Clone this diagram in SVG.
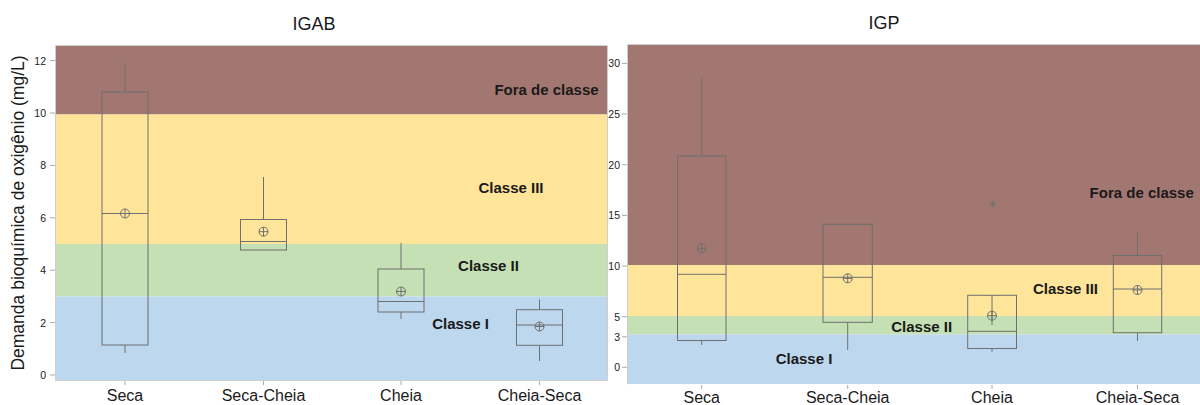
<svg xmlns="http://www.w3.org/2000/svg" width="1200" height="405" viewBox="0 0 1200 405">
<defs>
<style>
text{font-family:"Liberation Sans",Arial,sans-serif;fill:#1a1a1a}
.title{font-size:18px;text-anchor:middle}
.tick{font-size:10.5px;text-anchor:end;fill:#222}
.xl{font-size:16px;text-anchor:middle}
.cls{font-size:15px;font-weight:bold;text-anchor:middle;fill:#1a1a1a}
.frame{fill:none;stroke:#cfcfcf;stroke-width:1}
.tk{stroke:#aaa;stroke-width:1}
.bx{fill:none;stroke:#6f6f6f;stroke-width:1}
.brown{fill:#A37771}.yellow{fill:#FFE599}.green{fill:#C5E0B4}.blue{fill:#BDD7EE}
</style>
<g id="mean">
<circle cx="0" cy="0" r="4.5" fill="none" stroke="#6f6f6f" stroke-width="1"/>
<line x1="-4.5" y1="0" x2="4.5" y2="0" stroke="#6f6f6f" stroke-width="1"/>
<line x1="0" y1="-4.5" x2="0" y2="4.5" stroke="#6f6f6f" stroke-width="1"/>
</g>
</defs>
<rect width="1200" height="405" fill="#ffffff"/>

<text class="title" x="314" y="30">IGAB</text>
<text class="title" x="884" y="29">IGP</text>

<text transform="translate(24,213) rotate(-90)" style="font-size:17.5px;text-anchor:middle">Demanda bioquímica de oxigênio (mg/L)</text>

<!-- Left panel -->
<g id="panel-igab">
<rect class="brown" x="56" y="46" width="551" height="68.5"/>
<rect class="yellow" x="56" y="114.5" width="551" height="129.5"/>
<rect class="green" x="56" y="244" width="551" height="52.5"/>
<rect class="blue" x="56" y="296.5" width="551" height="83.5"/>
<path class="frame" d="M55.5,380.5 V45.5 H607.5 V380.5 Z"/>
<g class="tk">
<line x1="50" y1="375" x2="55" y2="375"/><line x1="50" y1="322.6" x2="55" y2="322.6"/>
<line x1="50" y1="270.2" x2="55" y2="270.2"/><line x1="50" y1="217.8" x2="55" y2="217.8"/>
<line x1="50" y1="165.4" x2="55" y2="165.4"/><line x1="50" y1="113" x2="55" y2="113"/>
<line x1="50" y1="60.6" x2="55" y2="60.6"/>
<line x1="125" y1="381" x2="125" y2="385"/><line x1="263.5" y1="381" x2="263.5" y2="385"/>
<line x1="401" y1="381" x2="401" y2="385"/><line x1="539.5" y1="381" x2="539.5" y2="385"/>
</g>
<text class="tick" x="46" y="379">0</text>
<text class="tick" x="46" y="326.6">2</text>
<text class="tick" x="46" y="274.2">4</text>
<text class="tick" x="46" y="221.8">6</text>
<text class="tick" x="46" y="169.4">8</text>
<text class="tick" x="46" y="117">10</text>
<text class="tick" x="46" y="64.6">12</text>
<text class="cls" x="546.5" y="95">Fora de classe</text>
<text class="cls" x="511" y="193">Classe III</text>
<text class="cls" x="488.5" y="271">Classe II</text>
<text class="cls" x="460.5" y="329">Classe I</text>
<text class="xl" x="125" y="401">Seca</text>
<text class="xl" x="263.5" y="401">Seca-Cheia</text>
<text class="xl" x="401" y="401">Cheia</text>
<text class="xl" x="539.5" y="401">Cheia-Seca</text>
</g>

<g id="igab-seca">
<line class="bx" x1="125" y1="63" x2="125" y2="92"/>
<rect class="bx" x="102" y="92" width="46" height="253"/>
<line class="bx" x1="102" y1="213.5" x2="148" y2="213.5"/>
<line class="bx" x1="125" y1="345" x2="125" y2="353"/>
<use href="#mean" x="125" y="213.5"/>
</g>
<g id="igab-seca-cheia">
<line class="bx" x1="263.5" y1="177" x2="263.5" y2="219.5"/>
<rect class="bx" x="240.5" y="219.5" width="46" height="30.5"/>
<line class="bx" x1="240.5" y1="241.5" x2="286.5" y2="241.5"/>
<use href="#mean" x="263.5" y="231.7"/>
</g>
<g id="igab-cheia">
<line class="bx" x1="401" y1="243" x2="401" y2="269"/>
<rect class="bx" x="378" y="269" width="46" height="43"/>
<line class="bx" x1="378" y1="301.5" x2="424" y2="301.5"/>
<line class="bx" x1="401" y1="312" x2="401" y2="319"/>
<use href="#mean" x="401" y="291.5"/>
</g>
<g id="igab-cheia-seca">
<line class="bx" x1="539.5" y1="299.5" x2="539.5" y2="309.7"/>
<rect class="bx" x="516.5" y="309.7" width="46" height="35.6"/>
<line class="bx" x1="516.5" y1="325" x2="562.5" y2="325"/>
<line class="bx" x1="539.5" y1="345.3" x2="539.5" y2="361"/>
<use href="#mean" x="539.5" y="326.5"/>
</g>

<!-- Right panel -->
<g id="panel-igp">
<rect class="brown" x="628" y="45" width="572" height="220"/>
<rect class="yellow" x="628" y="265" width="572" height="51"/>
<rect class="green" x="628" y="316" width="572" height="18.5"/>
<rect class="blue" x="628" y="334.5" width="572" height="49.5"/>
<path class="frame" d="M627.5,384.5 V44.5 H1200"/>
<g class="tk">
<line x1="622" y1="367.3" x2="627" y2="367.3"/><line x1="622" y1="336.9" x2="627" y2="336.9"/>
<line x1="622" y1="316.7" x2="627" y2="316.7"/><line x1="622" y1="266" x2="627" y2="266"/>
<line x1="622" y1="215.4" x2="627" y2="215.4"/><line x1="622" y1="164.7" x2="627" y2="164.7"/>
<line x1="622" y1="114" x2="627" y2="114"/><line x1="622" y1="63.4" x2="627" y2="63.4"/>
<line x1="701.7" y1="385" x2="701.7" y2="389"/><line x1="847.7" y1="385" x2="847.7" y2="389"/>
<line x1="992" y1="385" x2="992" y2="389"/><line x1="1137.5" y1="385" x2="1137.5" y2="389"/>
</g>
<text class="tick" x="620" y="371.3">0</text>
<text class="tick" x="620" y="340.9">3</text>
<text class="tick" x="620" y="320.7">5</text>
<text class="tick" x="620" y="270">10</text>
<text class="tick" x="620" y="219.4">15</text>
<text class="tick" x="620" y="168.7">20</text>
<text class="tick" x="620" y="118">25</text>
<text class="tick" x="620" y="67.4">30</text>
<text class="cls" x="1141.7" y="198">Fora de classe</text>
<text class="cls" x="1065.5" y="294">Classe III</text>
<text class="cls" x="921.7" y="332">Classe II</text>
<text class="cls" x="804" y="364">Classe I</text>
<text class="xl" x="701.7" y="403">Seca</text>
<text class="xl" x="847.7" y="403">Seca-Cheia</text>
<text class="xl" x="992" y="403">Cheia</text>
<text class="xl" x="1137.5" y="403">Cheia-Seca</text>
</g>

<g id="igp-seca">
<line class="bx" x1="701.7" y1="78" x2="701.7" y2="156"/>
<rect class="bx" x="677.5" y="156" width="48.5" height="184.5"/>
<line class="bx" x1="677.5" y1="274.3" x2="726" y2="274.3"/>
<line class="bx" x1="701.7" y1="340.5" x2="701.7" y2="345"/>
<use href="#mean" x="701.7" y="248.3"/>
</g>
<g id="igp-seca-cheia">
<rect class="bx" x="823" y="224.3" width="49.3" height="98"/>
<line class="bx" x1="823" y1="277.3" x2="872.3" y2="277.3"/>
<line class="bx" x1="847.7" y1="322.3" x2="847.7" y2="350"/>
<use href="#mean" x="847.7" y="278.3"/>
</g>
<g id="igp-cheia">
<rect class="bx" x="967.7" y="295.3" width="48.8" height="53.2"/>
<line class="bx" x1="992" y1="295.3" x2="992" y2="325"/>
<line class="bx" x1="967.7" y1="331.3" x2="1016.5" y2="331.3"/>
<line class="bx" x1="992" y1="348.5" x2="992" y2="351.7"/>
<use href="#mean" x="992" y="315.7"/>
<g stroke="#6f6f6f" stroke-width="1">
<line x1="992.7" y1="200.5" x2="992.7" y2="207.5"/>
<line x1="989.5" y1="202" x2="995.9" y2="206"/>
<line x1="989.5" y1="206" x2="995.9" y2="202"/>
</g>
</g>
<g id="igp-cheia-seca">
<line class="bx" x1="1137.5" y1="232.7" x2="1137.5" y2="255.5"/>
<rect class="bx" x="1113.3" y="255.5" width="48.4" height="77.2"/>
<line class="bx" x1="1113.3" y1="289" x2="1161.7" y2="289"/>
<line class="bx" x1="1137.5" y1="332.7" x2="1137.5" y2="341"/>
<use href="#mean" x="1137.5" y="290"/>
</g>
<g id="connectors"/>
</svg>
